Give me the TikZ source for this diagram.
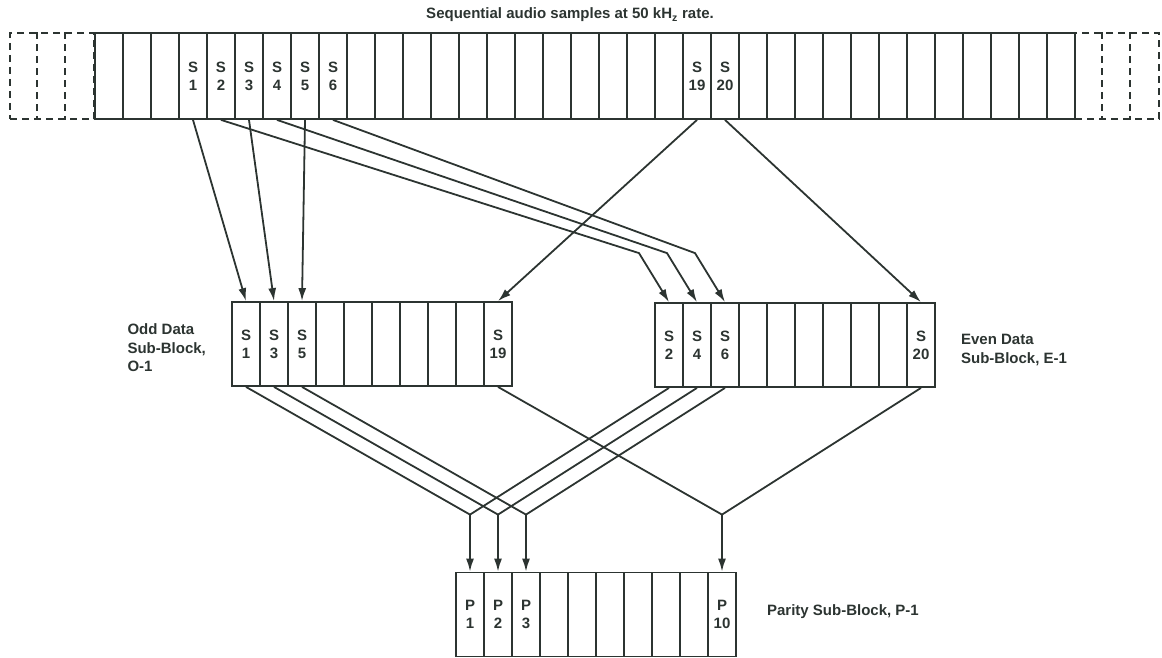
\documentclass[tikz,border=0pt]{standalone}
\usepackage{fontspec}
\setmainfont{Liberation Sans}
\usepackage{xcolor}
\usetikzlibrary{arrows.meta,calc,positioning}

\definecolor{ink}{RGB}{44,52,49}

\tikzset{
    %Define style for boxes
    cell/.style={
        rectangle,
        draw=ink, line width=1.8pt,
        minimum width=28pt,
        minimum height=86pt,
        inner sep=0pt,
    },
    subcell/.style={
        cell,
        minimum height=84pt,
    },
    ghost/.style={
        rectangle,
        draw=ink, line width=1.8pt,
        dash pattern=on 7pt off 5pt,
        minimum width=84pt,
        minimum height=86pt,
        inner sep=0pt,
    },
    ghostline/.style={
        draw=ink, line width=1.8pt,
        dash pattern=on 7pt off 5pt,
    },
    tag/.style={
        draw = none,
        align = center,
        inner sep=0pt,
        text=ink,
        font = \fontsize{15}{18}\selectfont\bfseries,
    },
    txt/.style={
        draw = none,
        align = left,
        inner sep=0pt,
        text=ink,
        font = \fontsize{15}{18.5}\selectfont\bfseries,
    },
    wire/.style={
        draw=ink, line width=1.8pt,
        line join=round,
    },
    feed/.style={
        wire,
        -{Latex[length=13pt,width=8pt]},
    },
}

\begin{document}
\begin{tikzpicture}[x=1pt,y=-1pt]
    \useasboundingbox (0,0) rectangle (1162,658);

    % sample stream
    \node[txt] (title) at (570,15) {Sequential audio samples at 50 kH\textsubscript{z} rate.};
    \foreach \i in {0,...,34}
        \node[cell] (top\i) at ({109+28*\i},76) {};
    \node[ghost] (pastL) at (52,76) {};
    \node[ghost] (pastR) at (1117,76) {};
    \foreach \k in {28,56}{
        \draw[ghostline] ($(pastL.north west)+(\k,0)$) -- ($(pastL.south west)+(\k,0)$);
        \draw[ghostline] ($(pastR.north west)+(\k,0)$) -- ($(pastR.south west)+(\k,0)$);
    }
    \foreach \i/\n in {3/1,4/2,5/3,6/4,7/5,8/6,21/19,22/20}
        \node[tag] (s\n) at (top\i) {S\\\n};

    % sub-blocks
    \foreach \i in {0,...,9}{
        \node[subcell] (odd\i) at ({246+28*\i},344) {};
        \node[subcell] (even\i) at ({669+28*\i},345) {};
        \node[subcell] (par\i) at ({470+28*\i},614.5) {};
    }
    \foreach \i/\n in {0/1,1/3,2/5,9/19}
        \node[tag] (o\n) at (odd\i) {S\\\n};
    \foreach \i/\n in {0/2,1/4,2/6,9/20}
        \node[tag] (e\n) at (even\i) {S\\\n};
    \foreach \i/\n in {0/1,1/2,2/3,9/10}
        \node[tag] (p\n) at (par\i) {P\\\n};

    \node[txt, left=25pt of odd0, yshift=-4pt] (oddlbl) {Odd Data\\Sub-Block,\\O-1};
    \node[txt, right=25pt of even9, yshift=-5pt] (evenlbl) {Even Data\\Sub-Block, E-1};
    \node[txt, right=30pt of par9, yshift=3pt] (parlbl) {Parity Sub-Block, P-1};

    % odd samples
    \draw[feed] (top3.south) -- (odd0.north);
    \draw[feed] (top5.south) -- (odd1.north);
    \draw[feed] (top7.south) -- (odd2.north);
    \draw[feed] (top21.south) -- (odd9.north);

    % even samples
    \foreach \i/\j in {4/0,6/1,8/2}
        \draw[feed] (top\i.south) -- ($(even\j.north)+(-30,-49)$) -- (even\j.north);
    \draw[feed] (top22.south) -- (even9.north);

    % parity
    \foreach \i in {0,1,2,9}{
        \coordinate (join\i) at ($(par\i.north)+(0,-57)$);
        \draw[wire] (odd\i.south) -- (join\i) -- (even\i.south);
        \draw[feed] (join\i) -- (par\i.north);
    }
\end{tikzpicture}
\end{document}
